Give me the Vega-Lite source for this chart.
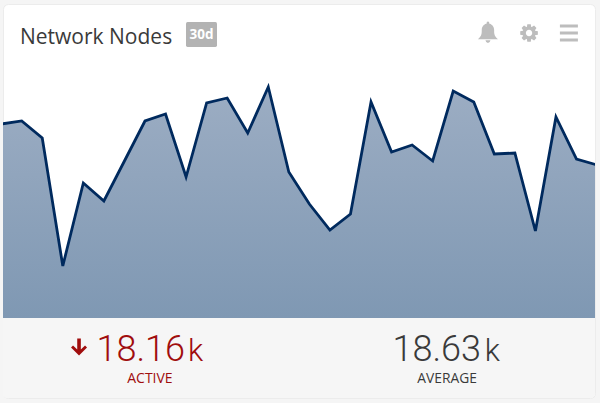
{
"$schema":"https://vega.github.io/schema/vega-lite/v6.json",
"width":600,"height":403,
"autosize":{"type":"fit","contains":"padding"},
"padding":{"left":3,"top":4,"right":5,"bottom":5},
"background":"#f5f5f5",
"view":{"fill":"#ffffff","stroke":"#ececec","cornerRadius":5},
"datasets":{
"series":[{"day":0,"nodes":19714},{"day":1,"nodes":19828},{"day":2,"nodes":19183},{"day":3,"nodes":14332},{"day":4,"nodes":17478},{"day":5,"nodes":16796},{"day":6,"nodes":18312},{"day":7,"nodes":19828},{"day":8,"nodes":20093},{"day":9,"nodes":17705},{"day":10,"nodes":20510},{"day":11,"nodes":20699},{"day":12,"nodes":19373},{"day":13,"nodes":21116},{"day":14,"nodes":17895},{"day":15,"nodes":16682},{"day":16,"nodes":15696},{"day":17,"nodes":16303},{"day":18,"nodes":20548},{"day":19,"nodes":18653},{"day":20,"nodes":18918},{"day":21,"nodes":18312},{"day":22,"nodes":20965},{"day":23,"nodes":20548},{"day":24,"nodes":18577},{"day":25,"nodes":18615},{"day":26,"nodes":15659},{"day":27,"nodes":19979},{"day":28,"nodes":18387},{"day":29,"nodes":18160}],
"stats":[{"metric":"ACTIVE","value":"18.16","unit":"k"},{"metric":"AVERAGE","value":"18.63","unit":"k"}],
"header":[{"title":"Network Nodes","badge":"30d"}]
},
"data":{"name":"series"},
"layer":[
{"mark":{"type":"rect","color":"#f6f6f6","cornerRadiusBottomLeft":5,"cornerRadiusBottomRight":5},
 "encoding":{"y":{"datum":12360,"type":"quantitative","scale":{"domain":[9329,24262],"nice":false,"zero":false},"axis":null},"y2":{"datum":9329}}},
{"mark":{"type":"area","clip":true,"color":{"gradient":"linear","x1":1,"y1":0,"x2":1,"y2":1,"stops":[{"offset":0,"color":"#9cadc3"},{"offset":1,"color":"#7f98b3"}]}},
 "encoding":{"x":{"field":"day","type":"quantitative","scale":{"domain":[0.09,28.9],"nice":false,"zero":false},"axis":null},"y":{"field":"nodes","type":"quantitative","axis":null},"y2":{"datum":12360}}},
{"mark":{"type":"line","clip":true,"color":"#002a5e","strokeWidth":2.8,"strokeJoin":"miter"},
 "encoding":{"x":{"field":"day","type":"quantitative","axis":null},"y":{"field":"nodes","type":"quantitative","axis":null}}},
{"data":{"name":"header"},"mark":{"type":"text","align":"left","baseline":"alphabetic","font":"Open Sans","fontSize":21,"color":"#3a3a3a"},
 "encoding":{"x":{"datum":0.917,"type":"quantitative","axis":null},"y":{"datum":22746,"type":"quantitative","axis":null},"text":{"field":"title"}}},
{"data":{"name":"header"},"mark":{"type":"point","filled":true,"opacity":1,"size":961,"color":"#b3b3b3","shape":"M-1,-.7 Q-1,-.806 -.9,-.806 L.9,-.806 Q1,-.806 1,-.7 L1,.7 Q1,.806 .9,.806 L-.9,.806 Q-1,.806 -1,.7 Z"},
 "encoding":{"x":{"datum":9.75,"type":"quantitative","axis":null},"y":{"datum":23106,"type":"quantitative","axis":null}}},
{"data":{"name":"header"},"mark":{"type":"text","align":"center","baseline":"middle","font":"Open Sans","fontWeight":"bold","fontSize":13.5,"color":"#ffffff"},
 "encoding":{"x":{"datum":9.75,"type":"quantitative","axis":null},"y":{"datum":23106,"type":"quantitative","axis":null},"text":{"field":"badge"}}},
{"data":{"name":"header"},"mark":{"type":"point","filled":true,"opacity":1,"size":400,"color":"#bdbdbd","shape":"M-1,.72 C-.6,.4 -.62,.1 -.62,-.2 C-.62,-.6 -.3,-.82 -.12,-.85 L-.12,-1 Q0,-1.1 .12,-1 L.12,-.85 C.3,-.82 .62,-.6 .62,-.2 C.62,.1 .6,.4 1,.72 Z M-.25,.82 L.25,.82 Q.2,1.1 0,1.1 Q-.2,1.1 -.25,.82 Z"},
 "encoding":{"x":{"datum":23.69,"type":"quantitative","axis":null},"y":{"datum":23201,"type":"quantitative","axis":null}}},
{"data":{"name":"header"},"mark":{"type":"point","filled":true,"opacity":1,"size":400,"color":"#bdbdbd","shape":"M.609,-.221 L.882,-.171 L.882,.171 L.609,.221 L.588,.275 L.744,.503 L.503,.744 L.275,.588 L.221,.609 L.171,.882 L-.171,.882 L-.221,.609 L-.275,.588 L-.503,.744 L-.744,.503 L-.588,.275 L-.609,.221 L-.882,.171 L-.882,-.171 L-.609,-.221 L-.588,-.275 L-.744,-.503 L-.503,-.744 L-.275,-.588 L-.221,-.609 L-.171,-.882 L.171,-.882 L.221,-.609 L.275,-.588 L.503,-.744 L.744,-.503 L.588,-.275 Z M.32,0 A.32,.32 0 1 0 -.32,0 A.32,.32 0 1 0 .32,0 Z"},
 "encoding":{"x":{"datum":25.69,"type":"quantitative","axis":null},"y":{"datum":23163,"type":"quantitative","axis":null}}},
{"data":{"name":"header"},"mark":{"type":"point","filled":true,"opacity":1,"size":400,"color":"#bdbdbd","shape":"M-.9,-.86 L.9,-.86 L.9,-.56 L-.9,-.56 Z M-.9,-.15 L.9,-.15 L.9,.15 L-.9,.15 Z M-.9,.56 L.9,.56 L.9,.86 L-.9,.86 Z"},
 "encoding":{"x":{"datum":27.63,"type":"quantitative","axis":null},"y":{"datum":23163,"type":"quantitative","axis":null}}},
{"data":{"name":"stats"},"transform":[{"filter":"datum.metric==='ACTIVE'"}],"mark":{"type":"point","filled":true,"opacity":1,"size":400,"color":"#a00d0d","shape":"M-.18,-.95 L.18,-.95 L.18,.16 L.6,-.26 L.8,-.04 L0,.76 L-.8,-.04 L-.6,-.26 L-.18,.16 Z"},
 "encoding":{"x":{"datum":3.79,"type":"quantitative","axis":null},"y":{"datum":11224,"type":"quantitative","axis":null}}},
{"data":{"name":"stats"},"transform":[{"filter":"datum.metric==='ACTIVE'"}],"mark":{"type":"text","align":"right","baseline":"alphabetic","font":"Roboto","fontWeight":300,"fontSize":36,"color":"#a00d0d"},
 "encoding":{"x":{"datum":8.95,"type":"quantitative","axis":null},"y":{"datum":10732,"type":"quantitative","axis":null},"text":{"field":"value"}}},
{"data":{"name":"stats"},"transform":[{"filter":"datum.metric==='ACTIVE'"}],"mark":{"type":"text","align":"left","baseline":"alphabetic","font":"Roboto","fontWeight":300,"fontSize":31,"color":"#a00d0d"},
 "encoding":{"x":{"datum":9.09,"type":"quantitative","axis":null},"y":{"datum":10732,"type":"quantitative","axis":null},"text":{"field":"unit"}}},
{"data":{"name":"stats"},"transform":[{"filter":"datum.metric==='ACTIVE'"}],"mark":{"type":"text","align":"center","baseline":"alphabetic","font":"Open Sans","fontSize":14,"color":"#a00d0d"},
 "encoding":{"x":{"datum":7.24,"type":"quantitative","axis":null},"y":{"datum":9898,"type":"quantitative","axis":null},"text":{"field":"metric"}}},
{"data":{"name":"stats"},"transform":[{"filter":"datum.metric==='AVERAGE'"}],"mark":{"type":"text","align":"right","baseline":"alphabetic","font":"Roboto","fontWeight":300,"fontSize":36,"color":"#3a3a3a"},
 "encoding":{"x":{"datum":23.35,"type":"quantitative","axis":null},"y":{"datum":10732,"type":"quantitative","axis":null},"text":{"field":"value"}}},
{"data":{"name":"stats"},"transform":[{"filter":"datum.metric==='AVERAGE'"}],"mark":{"type":"text","align":"left","baseline":"alphabetic","font":"Roboto","fontWeight":300,"fontSize":31,"color":"#3a3a3a"},
 "encoding":{"x":{"datum":23.54,"type":"quantitative","axis":null},"y":{"datum":10732,"type":"quantitative","axis":null},"text":{"field":"unit"}}},
{"data":{"name":"stats"},"transform":[{"filter":"datum.metric==='AVERAGE'"}],"mark":{"type":"text","align":"center","baseline":"alphabetic","font":"Open Sans","fontSize":13.8,"color":"#3a3a3a"},
 "encoding":{"x":{"datum":21.7,"type":"quantitative","axis":null},"y":{"datum":9898,"type":"quantitative","axis":null},"text":{"field":"metric"}}}
]
}
